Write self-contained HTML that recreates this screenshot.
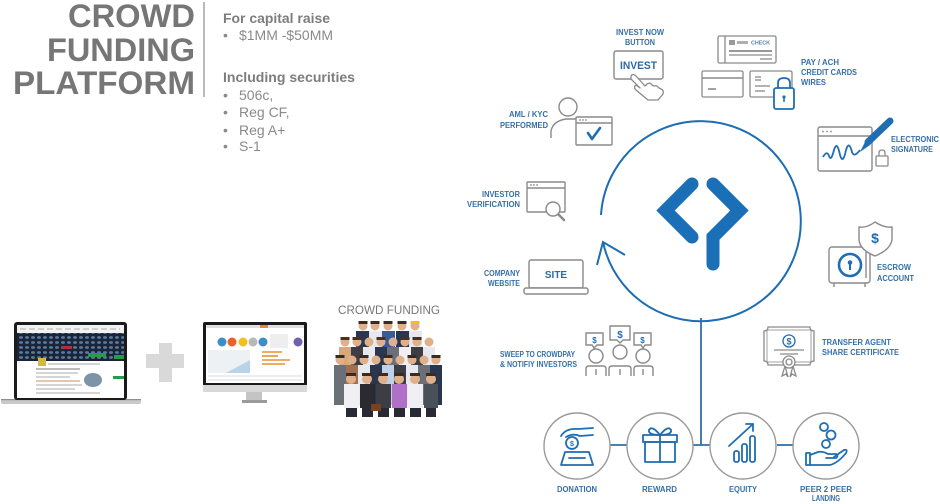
<!DOCTYPE html>
<html><head><meta charset="utf-8"><style>
html,body{margin:0;padding:0;background:#fff;}
svg{display:block;}
.g{font-family:"Liberation Sans",sans-serif;}
.lb{font-family:"Liberation Sans",sans-serif;font-weight:bold;font-size:8px;fill:#3570a8;}
</style></head><body>
<svg width="940" height="504" viewBox="0 0 940 504" xmlns="http://www.w3.org/2000/svg">
<defs>
<pattern id="bub" width="6" height="5" patternUnits="userSpaceOnUse"><ellipse cx="3" cy="2.5" rx="2" ry="1.4" fill="#557ba3"/></pattern>
</defs>
<rect width="940" height="504" fill="#fff"/>

<!-- LEFT TITLE -->
<g class="g" font-weight="bold" font-size="32.5" fill="#767676">
<text x="68" y="27" textLength="127" lengthAdjust="spacingAndGlyphs">CROWD</text>
<text x="47" y="61" textLength="148" lengthAdjust="spacingAndGlyphs">FUNDING</text>
<text x="13" y="94" textLength="182" lengthAdjust="spacingAndGlyphs">PLATFORM</text>
</g>
<line x1="204" y1="2" x2="204" y2="97" stroke="#8a8a8a" stroke-width="1.2"/>
<g class="g" fill="#7d7d7d">
<text x="223" y="23" font-size="14" font-weight="bold" textLength="107" lengthAdjust="spacingAndGlyphs">For capital raise</text>
<text x="223" y="82" font-size="14" font-weight="bold" textLength="132" lengthAdjust="spacingAndGlyphs">Including securities</text>
</g>
<g class="g" fill="#8a8a8a" font-size="14">
<text x="223" y="40">•</text><text x="239" y="40" textLength="94" lengthAdjust="spacingAndGlyphs">$1MM -$50MM</text>
<text x="223" y="100">•</text><text x="239" y="100">506c,</text>
<text x="223" y="117">•</text><text x="239" y="117">Reg CF,</text>
<text x="223" y="135">•</text><text x="239" y="135">Reg A+</text>
<text x="223" y="151">•</text><text x="239" y="151">S-1</text>
</g>

<!-- LAPTOP -->
<rect x="1" y="399" width="140" height="5" rx="2" fill="#c9c9c9"/>
<rect x="1" y="399" width="140" height="1.2" fill="#8f8f8f"/>
<rect x="14" y="322" width="113" height="78" rx="3" fill="#1b1b1b"/>
<rect x="17" y="325" width="107" height="73" fill="#fff"/>
<rect x="17" y="325" width="107" height="8" fill="#f2f2f2"/>
<line x1="20" y1="329" x2="120" y2="329" stroke="#9a9a9a" stroke-width="0.8" stroke-dasharray="6 3"/>
<rect x="17" y="333" width="107" height="28" fill="#1c2535"/>
<rect x="17" y="333" width="107" height="28" fill="url(#bub)"/>
<rect x="62" y="346" width="10" height="3" fill="#b03040"/>
<rect x="88" y="353" width="18" height="4" fill="#2a9a4a"/>
<rect x="114" y="355" width="10" height="4" fill="#2a9a4a"/>
<rect x="38" y="358" width="8" height="8" fill="#d4b54a"/>
<g stroke="#a8a8a8" stroke-width="1">
<line x1="48" y1="364" x2="100" y2="364"/>
<line x1="36" y1="369" x2="80" y2="369" stroke="#777"/>
<line x1="36" y1="373" x2="78" y2="373"/>
<line x1="36" y1="377" x2="70" y2="377"/>
<line x1="36" y1="381" x2="80" y2="381" stroke="#c49060"/>
<line x1="36" y1="385" x2="82" y2="385"/>
<line x1="36" y1="389" x2="75" y2="389"/>
<line x1="36" y1="393" x2="100" y2="393"/>
</g>
<ellipse cx="93" cy="380" rx="9" ry="7" fill="#7d93a8"/>
<rect x="113" y="376" width="11" height="3" fill="#2a9a4a"/>

<!-- PLUS -->
<rect x="159" y="343" width="13" height="39" fill="#d9d9d9"/>
<rect x="146" y="354" width="38" height="14" fill="#d9d9d9"/>

<!-- MONITOR -->
<rect x="203" y="322" width="104" height="64" rx="2" fill="#1a1a1a"/>
<rect x="206" y="325" width="98" height="58" fill="#fff"/>
<rect x="206" y="325" width="98" height="3" fill="#e0e0e0"/>
<rect x="260" y="325" width="8" height="3" fill="#e08a40"/>
<circle cx="222" cy="342" r="4.5" fill="#3b8fc8"/>
<circle cx="232" cy="342" r="4.5" fill="#e8622a"/>
<circle cx="243" cy="342" r="4.5" fill="#f0c020"/>
<circle cx="253" cy="342" r="4.5" fill="#b8b8b8"/>
<circle cx="263" cy="342" r="4.5" fill="#3a8fc8"/>
<circle cx="298" cy="342" r="4.5" fill="#7060b0"/>
<rect x="270" y="334" width="18" height="14" fill="#eee"/>
<rect x="208" y="350" width="42" height="23" fill="#eef1f3"/>
<path d="M226 373 L250 360 L250 373 Z" fill="#b8d4e8"/>
<g stroke="#e89030" stroke-width="1.6">
<line x1="262" y1="352" x2="282" y2="352"/><line x1="262" y1="356" x2="278" y2="356"/>
<line x1="262" y1="360" x2="290" y2="360"/><line x1="262" y1="364" x2="285" y2="364"/></g>
<g stroke="#cfcfcf" stroke-width="0.8"><line x1="208" y1="376" x2="302" y2="376"/><line x1="208" y1="380" x2="302" y2="380"/></g>
<rect x="203" y="385" width="104" height="7" fill="#d8d8d8"/>
<rect x="246" y="392" width="16" height="9" fill="#c4c4c4"/>
<rect x="242" y="400" width="25" height="3" fill="#9a9a9a"/>

<!-- CROWD -->
<text class="g" x="338" y="314" font-size="11.5" fill="#777" textLength="102" lengthAdjust="spacingAndGlyphs">CROWD FUNDING</text>
<g>
<!-- back row -->
<g fill="#2a3550"><rect x="356" y="331" width="13" height="30"/><rect x="396" y="331" width="13" height="30"/></g>
<rect x="369" y="331" width="13" height="30" fill="#e8e8ef"/>
<rect x="382" y="331" width="13" height="30" fill="#3a5a9a"/>
<rect x="409" y="331" width="13" height="30" fill="#e8e8ef"/>
<g fill="#e0b08a"><circle cx="363" cy="326" r="4.5"/><circle cx="375" cy="326" r="4.5"/><circle cx="388" cy="326" r="4.5"/><circle cx="402" cy="326" r="4.5"/><circle cx="415" cy="326" r="4.5"/></g>
<g fill="#3a2a20"><rect x="358.5" y="321" width="9" height="3"/><rect x="370.5" y="321" width="9" height="3"/><rect x="383.5" y="321" width="9" height="3"/><rect x="397.5" y="321" width="9" height="3"/></g>
<rect x="410.5" y="321" width="9" height="3" fill="#f0c020"/>
<!-- row 2 -->
<rect x="339" y="347" width="12" height="35" fill="#d8a878"/>
<rect x="351" y="347" width="12" height="35" fill="#3d3d45"/>
<rect x="363" y="347" width="12" height="35" fill="#e8e8ef"/>
<rect x="375" y="347" width="12" height="35" fill="#2a3550"/>
<rect x="387" y="347" width="12" height="35" fill="#6b7078"/>
<rect x="399" y="347" width="12" height="35" fill="#f0f0f4"/>
<rect x="411" y="347" width="12" height="35" fill="#3d3d45"/>
<rect x="423" y="347" width="12" height="35" fill="#e8e8ef"/>
<g fill="#e0b08a"><circle cx="345" cy="342" r="4.5"/><circle cx="357" cy="342" r="4.5"/><circle cx="369" cy="342" r="4.5"/><circle cx="381" cy="342" r="4.5"/><circle cx="393" cy="342" r="4.5"/><circle cx="405" cy="342" r="4.5"/><circle cx="417" cy="342" r="4.5"/><circle cx="429" cy="342" r="4.5"/></g>
<g fill="#4a3020"><rect x="340.5" y="337" width="9" height="3"/><rect x="352.5" y="337" width="9" height="3"/><rect x="376.5" y="337" width="9" height="3"/><rect x="400.5" y="337" width="9" height="3"/><rect x="412.5" y="337" width="9" height="3"/></g>
<!-- row 3 -->
<rect x="334" y="365" width="12" height="40" fill="#6b7078"/>
<rect x="346" y="365" width="12" height="40" fill="#a07050"/>
<rect x="358" y="365" width="12" height="40" fill="#e8e8ef"/>
<rect x="370" y="365" width="12" height="40" fill="#2a3550"/>
<rect x="382" y="365" width="12" height="40" fill="#c0d0e8"/>
<rect x="394" y="365" width="12" height="40" fill="#3d3d45"/>
<rect x="406" y="365" width="12" height="40" fill="#e8e8ef"/>
<rect x="418" y="365" width="12" height="40" fill="#6b7078"/>
<rect x="430" y="365" width="12" height="40" fill="#2a3550"/>
<g fill="#e0b08a"><circle cx="340" cy="360" r="4.5"/><circle cx="352" cy="360" r="4.5"/><circle cx="364" cy="360" r="4.5"/><circle cx="376" cy="360" r="4.5"/><circle cx="388" cy="360" r="4.5"/><circle cx="400" cy="360" r="4.5"/><circle cx="412" cy="360" r="4.5"/><circle cx="424" cy="360" r="4.5"/><circle cx="436" cy="360" r="4.5"/></g>
<g fill="#3a2a20"><rect x="335.5" y="355" width="9" height="3"/><rect x="359.5" y="355" width="9" height="3"/><rect x="383.5" y="355" width="9" height="3"/><rect x="407.5" y="355" width="9" height="3"/><rect x="431.5" y="355" width="9" height="3"/></g>
<!-- front row -->
<rect x="344" y="384" width="15" height="24" fill="#f0f0f4"/>
<rect x="360" y="384" width="15" height="24" fill="#2a2a30"/>
<rect x="376" y="384" width="15" height="24" fill="#3d3d45"/>
<rect x="392" y="384" width="15" height="24" fill="#b070c8"/>
<rect x="408" y="384" width="15" height="24" fill="#f0f0f4"/>
<rect x="424" y="384" width="14" height="24" fill="#4a5058"/>
<g fill="#2a2a35"><rect x="346" y="408" width="11" height="9"/><rect x="362" y="408" width="11" height="9"/><rect x="378" y="408" width="11" height="9"/><rect x="394" y="408" width="11" height="9"/><rect x="410" y="408" width="11" height="9"/><rect x="426" y="408" width="10" height="9"/></g>
<rect x="371" y="404" width="10" height="7" fill="#7a4020"/>
<g fill="#e0b08a"><circle cx="351" cy="379" r="5"/><circle cx="367" cy="379" r="5"/><circle cx="383" cy="379" r="5"/><circle cx="399" cy="379" r="5"/><circle cx="415" cy="379" r="5"/><circle cx="431" cy="379" r="5"/></g>
<g fill="#3a2a20"><rect x="346" y="373" width="10" height="3"/><rect x="362" y="373" width="10" height="3"/><rect x="378" y="373" width="10" height="3"/><rect x="394" y="373" width="10" height="3"/><rect x="410" y="373" width="10" height="3"/><rect x="426" y="373" width="10" height="3"/></g>
</g>

<!-- MAIN CIRCLE -->
<path d="M601 215 A100 100 0 1 1 603 242" fill="none" stroke="#1e6db4" stroke-width="2"/>
<polyline points="597,265 603,242 625,255" fill="none" stroke="#1e6db4" stroke-width="2"/>
<!-- LOGO -->
<g fill="none" stroke="#1a6fb7" stroke-width="13" stroke-linecap="round" stroke-linejoin="miter">
<polyline points="692,184 665.5,210.5 692,237"/>
<polyline points="713,184 739.5,210.5 713,237 713,264"/>
</g>

<!-- connectors -->
<g stroke="#2f6fa8" stroke-width="1.8">
<line x1="701" y1="318" x2="701" y2="445"/>
<line x1="610" y1="445" x2="627" y2="445"/>
<line x1="693" y1="445" x2="710" y2="445"/>
<line x1="777" y1="445" x2="793" y2="445"/>
</g>
<g fill="#fff" stroke="#9a9a9a" stroke-width="1.4">
<circle cx="577" cy="446" r="33"/>
<circle cx="660" cy="446" r="33"/>
<circle cx="743" cy="446" r="33"/>
<circle cx="826" cy="446" r="33"/>
</g>
<!-- bottom icons -->
<g fill="none" stroke="#1f6db3" stroke-width="1.8" stroke-linejoin="round" stroke-linecap="round">
<!-- donation -->
<path d="M561 436 Q566 428 578 429 L593 428"/>
<path d="M566 437 Q573 433 580 436 L593 435"/>
<circle cx="572" cy="443" r="6"/>
<path d="M565 452 L589 452 L593 465 L561 465 Z"/>
<line x1="569" y1="458" x2="585" y2="458"/>
<!-- reward -->
<rect x="645" y="442" width="30" height="20"/>
<rect x="643" y="435" width="34" height="7"/>
<line x1="660" y1="435" x2="660" y2="462"/>
<path d="M660 435 Q652 425 649 430 Q648 435 660 435"/>
<path d="M660 435 Q668 425 671 430 Q672 435 660 435"/>
<!-- equity -->
<rect x="734" y="451" width="5" height="11" rx="2"/>
<rect x="742" y="444" width="5" height="18" rx="2"/>
<rect x="750" y="436" width="5" height="26" rx="2"/>
<line x1="729" y1="446" x2="753" y2="424"/>
<polyline points="746,424 753,424 753,431"/>
<!-- peer -->
<rect x="806" y="453" width="4" height="12"/>
<path d="M810 455 L818 452 Q823 451 828 454 L836 454 Q839 456 836 458 L826 458"/>
<path d="M810 465 L830 465 Q838 463 846 453 Q848 449 844 450 L834 457"/>
<circle cx="826" cy="444" r="4"/>
<circle cx="831" cy="435" r="4.5"/>
<circle cx="824" cy="427" r="4"/>
</g>
<text x="572" y="446" text-anchor="middle" class="g" font-size="7" font-weight="bold" fill="#1f6db3">$</text>

<!-- bottom labels -->
<text class="lb" x="557" y="492" textLength="40" lengthAdjust="spacingAndGlyphs">DONATION</text>
<text class="lb" x="642" y="492" textLength="35" lengthAdjust="spacingAndGlyphs">REWARD</text>
<text class="lb" x="729" y="492" textLength="28" lengthAdjust="spacingAndGlyphs">EQUITY</text>
<text class="lb" x="800" y="492" textLength="52" lengthAdjust="spacingAndGlyphs">PEER 2 PEER</text>
<text class="lb" x="812" y="501" textLength="28" lengthAdjust="spacingAndGlyphs">LANDING</text>

<!-- INVEST NOW -->
<text class="lb" x="616" y="35" textLength="48" lengthAdjust="spacingAndGlyphs">INVEST NOW</text>
<text class="lb" x="625" y="45" textLength="30" lengthAdjust="spacingAndGlyphs">BUTTON</text>
<rect x="614" y="51" width="49" height="28" rx="2" fill="#fff" stroke="#8a8a8a" stroke-width="1.4"/>
<text x="620" y="69" class="g" font-size="11" font-weight="bold" fill="#2d6aa3" textLength="37" lengthAdjust="spacingAndGlyphs">INVEST</text>
<path d="M631 76 Q633 73 636 76 L645 86 L647 84 Q650 82 652 85 L654 86 Q657 85 659 88 L661 89 Q664 90 663 94 L658 100 L648 100 L636 90 Q633 87 636 85 L640 88 L631 79 Z" fill="#fff" stroke="#8a8a8a" stroke-width="1.3" stroke-linejoin="round"/>

<!-- AML -->
<text class="lb" x="509" y="117" textLength="39" lengthAdjust="spacingAndGlyphs">AML / KYC</text>
<text class="lb" x="500" y="128" textLength="48" lengthAdjust="spacingAndGlyphs">PERFORMED</text>
<g fill="#fff" stroke="#8a8a8a" stroke-width="1.4">
<path d="M551 138 L551 131 Q553 121 566 119 L578 119"/>
<circle cx="568" cy="107" r="9"/>
<rect x="576" y="117" width="36" height="28" rx="1"/>
<line x1="576" y1="123" x2="612" y2="123"/>
</g>
<g fill="#8a8a8a"><circle cx="580" cy="120" r="0.9"/><circle cx="583" cy="120" r="0.9"/><circle cx="586" cy="120" r="0.9"/></g>
<polyline points="588,133 592,139 600,128" fill="none" stroke="#1f6db3" stroke-width="2.6" stroke-linecap="round" stroke-linejoin="round"/>

<!-- PAY -->
<g fill="#fff" stroke="#8a8a8a" stroke-width="1.3">
<rect x="718" y="36" width="58" height="27" rx="1.5"/>
<line x1="725" y1="36" x2="725" y2="63"/>
<line x1="729" y1="51" x2="772" y2="51" stroke-width="1.8"/>
<line x1="729" y1="55" x2="772" y2="55"/>
<line x1="760" y1="59" x2="772" y2="59"/>
<rect x="702" y="71" width="41" height="26" rx="1.5"/>
<line x1="702" y1="78" x2="743" y2="78" stroke-width="1.6"/>
<line x1="708" y1="89" x2="716" y2="89" stroke-width="1.6"/>
<rect x="750" y="71" width="42" height="26" rx="1.5"/>
<line x1="755" y1="77" x2="761" y2="77"/><line x1="755" y1="80" x2="761" y2="80"/>
<line x1="755" y1="86" x2="770" y2="86"/><line x1="755" y1="91" x2="765" y2="91"/>
</g>
<rect x="729" y="40" width="6" height="5" fill="#9a9a9a"/>
<rect x="737" y="41" width="11" height="3" fill="#b0b0b0"/>
<text x="751" y="44.5" class="g" font-size="5" font-weight="bold" fill="#5a80b0" textLength="19" lengthAdjust="spacingAndGlyphs">CHECK</text>
<g fill="#fff" stroke="#1f6db3" stroke-width="1.8">
<path d="M778 88 V83 Q778 78 784 78 Q790 78 790 83 V88"/>
<rect x="774" y="88" width="20" height="21" rx="2"/>
</g>
<circle cx="784" cy="97" r="1.6" fill="#1f6db3"/><line x1="784" y1="97" x2="784" y2="102" stroke="#1f6db3" stroke-width="1.5"/>
<text class="lb" x="801" y="65" textLength="38" lengthAdjust="spacingAndGlyphs">PAY / ACH</text>
<text class="lb" x="801" y="75" textLength="56" lengthAdjust="spacingAndGlyphs">CREDIT CARDS</text>
<text class="lb" x="801" y="85" textLength="25" lengthAdjust="spacingAndGlyphs">WIRES</text>

<!-- SIGNATURE -->
<g fill="#fff" stroke="#8a8a8a" stroke-width="1.4">
<rect x="818" y="127" width="54" height="44" rx="2"/>
<line x1="818" y1="136" x2="872" y2="136"/>
</g>
<g fill="#8a8a8a"><circle cx="823" cy="131.5" r="0.9"/><circle cx="827" cy="131.5" r="0.9"/><circle cx="831" cy="131.5" r="0.9"/></g>
<path d="M823 157 Q827 150 829 156 Q831 162 834 150 Q837 140 840 155 Q843 165 846 150 Q849 140 852 152 Q854 158 860 150" fill="none" stroke="#1f6db3" stroke-width="1.8"/>
<line x1="868" y1="142" x2="890" y2="121" stroke="#1f6db3" stroke-width="7" stroke-linecap="round"/>
<path d="M866 140 L870 145 L860 152 Z" fill="#1f6db3"/>
<g fill="#fff" stroke="#8a8a8a" stroke-width="1.3">
<path d="M879 156 V153 Q879 150 882 150 Q885 150 885 153 V156"/>
<rect x="876" y="156" width="12" height="10" rx="1"/>
</g>
<text class="lb" x="891" y="142" textLength="48" lengthAdjust="spacingAndGlyphs">ELECTRONIC</text>
<text class="lb" x="891" y="152" textLength="42" lengthAdjust="spacingAndGlyphs">SIGNATURE</text>

<!-- ESCROW -->
<g fill="#fff" stroke="#8a8a8a" stroke-width="1.4">
<rect x="829" y="247" width="41" height="36" rx="3"/>
<line x1="834" y1="283" x2="834" y2="287"/><line x1="865" y1="283" x2="865" y2="287"/>
<line x1="866" y1="252" x2="866" y2="278"/>
<path d="M875 222 Q884 228 892 227 L892 240 Q890 250 875 256 Q860 250 859 240 L859 227 Q867 228 875 222 Z"/>
</g>
<circle cx="850" cy="265" r="11" fill="#fff" stroke="#1f6db3" stroke-width="2.6"/>
<circle cx="850" cy="262.5" r="2.3" fill="#1f6db3"/><line x1="850" y1="263" x2="850" y2="270" stroke="#1f6db3" stroke-width="2"/>
<text x="875" y="243" text-anchor="middle" class="g" font-size="14" font-weight="bold" fill="#1f6db3">$</text>
<text class="lb" x="877" y="270" textLength="34" lengthAdjust="spacingAndGlyphs">ESCROW</text>
<text class="lb" x="877" y="281" textLength="37" lengthAdjust="spacingAndGlyphs">ACCOUNT</text>

<!-- TRANSFER -->
<g fill="#fff" stroke="#8a8a8a" stroke-width="1.3">
<path d="M768 327 H810 Q810 331 814 331 V361 Q810 361 810 365 H768 Q768 361 764 361 V331 Q768 331 768 327 Z"/>
<rect x="767" y="330" width="44" height="32" fill="none" stroke-width="0.8"/>
<line x1="774" y1="350" x2="804" y2="350"/><line x1="780" y1="354" x2="798" y2="354"/>
<path d="M785 366 L782 376 L786 374 L788 377 Z"/><path d="M793 366 L796 376 L792 374 L790 377 Z"/>
<circle cx="789" cy="362" r="6"/><circle cx="789" cy="362" r="3"/>
</g>
<circle cx="789" cy="341" r="6" fill="#fff" stroke="#1f6db3" stroke-width="1.3"/>
<text x="789" y="344.5" text-anchor="middle" class="g" font-size="9" font-weight="bold" fill="#1f6db3">$</text>
<text class="lb" x="822" y="345" textLength="69" lengthAdjust="spacingAndGlyphs">TRANSFER AGENT</text>
<text class="lb" x="822" y="355" textLength="77" lengthAdjust="spacingAndGlyphs">SHARE CERTIFICATE</text>

<!-- SWEEP -->
<text class="lb" x="500" y="357" textLength="75" lengthAdjust="spacingAndGlyphs">SWEEP TO CROWDPAY</text>
<text class="lb" x="500" y="367" textLength="77" lengthAdjust="spacingAndGlyphs">&amp; NOTIFIY INVESTORS</text>
<g fill="#fff" stroke="#8a8a8a" stroke-width="1.4">
<circle cx="596" cy="356" r="7"/><circle cx="620" cy="352" r="7"/><circle cx="643" cy="356" r="7"/>
<path d="M586 376 V369 Q586 366 589 366 H603 Q606 366 606 369 V376" fill="none"/>
<path d="M609 376 V369 Q609 366 612 366 H628 Q631 366 631 369 V376" fill="none"/>
<path d="M634 376 V369 Q634 366 637 366 H650 Q653 366 653 369 V376" fill="none"/>
<line x1="596" y1="369" x2="596" y2="375"/><line x1="620" y1="369" x2="620" y2="375"/><line x1="643" y1="369" x2="643" y2="375"/>
<path d="M586 333 H603 V345 H597 L594 348 L592 345 H586 Z"/>
<path d="M610 326 H630 V340 H623 L620 343 L617 340 H610 Z"/>
<path d="M634 333 H651 V345 H645 L643 348 L641 345 H634 Z"/>
</g>
<g class="g" font-weight="bold" fill="#1f6db3" text-anchor="middle">
<text x="594.5" y="343" font-size="8">$</text>
<text x="620" y="338" font-size="10">$</text>
<text x="642.5" y="343" font-size="8">$</text>
</g>

<!-- COMPANY WEBSITE -->
<g fill="#fff" stroke="#8a8a8a" stroke-width="1.4">
<rect x="529" y="260" width="54" height="28" rx="2"/>
<rect x="524" y="288" width="64" height="6" rx="2"/>
</g>
<text x="556" y="278" text-anchor="middle" class="g" font-size="10" font-weight="bold" fill="#2d6aa3">SITE</text>
<text class="lb" x="484" y="276" textLength="36" lengthAdjust="spacingAndGlyphs">COMPANY</text>
<text class="lb" x="488" y="286" textLength="32" lengthAdjust="spacingAndGlyphs">WEBSITE</text>

<!-- INVESTOR VERIFICATION -->
<g fill="#fff" stroke="#8a8a8a" stroke-width="1.4">
<rect x="527" y="182" width="38" height="30" rx="1"/>
<line x1="527" y1="188" x2="565" y2="188"/>
<line x1="558" y1="214" x2="564" y2="220" stroke-width="2.5" stroke-linecap="round"/>
<circle cx="553" cy="209" r="7"/>
</g>
<g fill="#8a8a8a"><circle cx="531" cy="185" r="0.9"/><circle cx="534" cy="185" r="0.9"/><circle cx="537" cy="185" r="0.9"/></g>
<text class="lb" x="482" y="197" textLength="38" lengthAdjust="spacingAndGlyphs">INVESTOR</text>
<text class="lb" x="467" y="207" textLength="53" lengthAdjust="spacingAndGlyphs">VERIFICATION</text>
</svg>
</body></html>
